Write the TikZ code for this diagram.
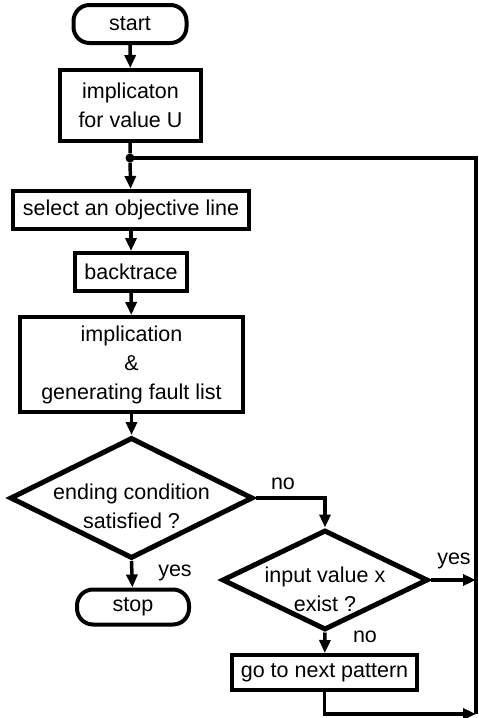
\documentclass[tikz,border=0pt]{standalone}
\usepackage{fontspec}
\setmainfont{Liberation Sans}
\usetikzlibrary{shapes.geometric,arrows.meta}
\begin{document}
\begin{tikzpicture}[x=1pt,y=-1pt,font=\fontsize{21.5}{29}\selectfont,
  box/.style={draw,line width=4pt,inner sep=0pt,align=center},
  term/.style={box,rounded corners=16pt},
  cond/.style={draw,diamond,line width=5pt,inner sep=0pt},
  flow/.style={line width=3.5pt,-{Triangle[length=13pt,width=11pt]}},
  wire/.style={line width=3.5pt}]
\useasboundingbox (0,0) rectangle (479,718);
\node[term,minimum width=113,minimum height=38] (start) at (130,24) {start};
\node[box,minimum width=141,minimum height=71] (impl) at (130.5,105.5) {implicaton\\for value U};
\node[circle,fill,inner sep=0pt,minimum size=9pt] (dot) at (130,158) {};
\node[box,minimum width=236,minimum height=38] (select) at (131,210) {select an objective line};
\node[box,minimum width=112,minimum height=38] (back) at (131,272) {backtrace};
\node[box,minimum width=223,minimum height=95] (implfl) at (131.5,364.5) {implication\\\&\\generating fault list};
\node[cond,minimum width=243,minimum height=121,label={[align=center,yshift=-8pt]center:ending condition\\satisfied ?}] (ending) at (131.5,498) {};
\node[term,minimum width=112,minimum height=35] (stop) at (133,607) {stop};
\node[cond,minimum width=206,minimum height=100,label={[align=center,yshift=-9pt]center:input value x\\exist ?}] (input) at (325,580) {};
\node[box,minimum width=185,minimum height=35] (next) at (324.5,672.5) {go to next pattern};
\coordinate (rtop) at (476,158);
\coordinate (rbot) at (476,714);
% connectors
\draw[flow] (start) -- (impl);
\draw[wire] (impl) -- (dot);
\draw[flow] (dot) -- (select);
\draw[flow] (select) -- (back);
\draw[flow] (back) -- (implfl);
\draw[flow] (implfl) -- (ending.north);
\draw[flow] (ending.south) -- (stop);
\draw[flow] (ending.east) -| (input.north);
\draw[flow] (input.south) -- (next);
\draw[flow] (input.east) -- (input.east -| rtop);
\draw[flow] (next) |- (rbot);
\draw[wire] (dot.center) -- (rtop) -- (rbot);
% labels
\node (noa) at (283,484) {no};
\node (yesa) at (175,573) {yes};
\node (yesb) at (454,561) {yes};
\node (nob) at (365,637) {no};
\end{tikzpicture}
\end{document}
